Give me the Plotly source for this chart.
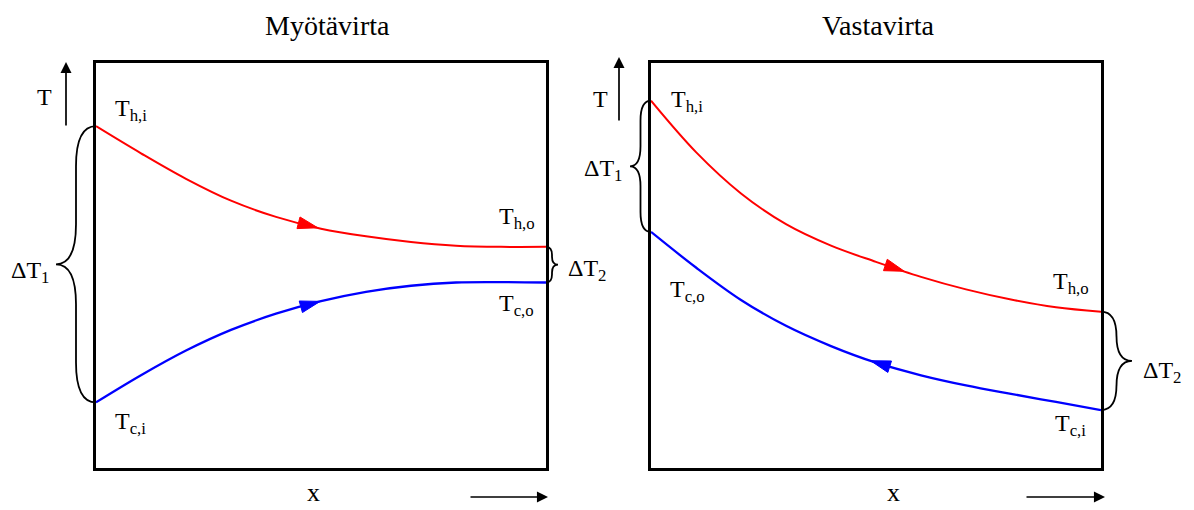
import numpy as np
import plotly.graph_objects as go

# ---- data: dimensionless position along the exchanger and temperature (0..100 scale)
x_pos = [0.0, 0.1, 0.2, 0.3, 0.4, 0.5, 0.6, 0.7, 0.8, 0.9, 1.0]

# parallel flow (Myötävirta)
par_hot = [84.4, 77.7, 71.4, 66.0, 62.0, 59.1, 57.2, 55.8, 54.9, 54.6, 54.6]
par_cold = [16.2, 22.9, 29.0, 34.1, 38.1, 41.2, 43.5, 45.0, 45.8, 45.9, 45.8]

# counter flow (Vastavirta)
cnt_hot = [90.7, 78.0, 67.8, 60.2, 54.9, 50.9, 47.2, 44.1, 41.6, 39.7, 38.6]
cnt_cold = [58.3, 49.5, 41.5, 35.1, 30.1, 26.0, 22.9, 20.4, 18.3, 16.3, 14.3]

titles = ["Myötävirta", "Vastavirta"]

# ---- page geometry (pixels)
W, H = 1194, 510
PANEL_PX = {"left": (96, 546), "right": (651, 1101)}
Y_TOP, Y_BOT = 63, 468
T_MAX = 100.0

HOT, COLD = "#ff0000", "#0000ff"
FONT = "Liberation Serif, Times New Roman, Times, serif"


def to_px(panel, x, t):
    x0, x1 = PANEL_PX[panel]
    return x0 + x * (x1 - x0), Y_BOT - t / T_MAX * (Y_BOT - Y_TOP)


def from_px(panel, px, py):
    x0, x1 = PANEL_PX[panel]
    return (px - x0) / (x1 - x0), (Y_BOT - py) / (Y_BOT - Y_TOP) * T_MAX


def paper(px, py):
    return px / W, 1 - py / H


def arrow_head(panel, xs, ts, x_tip, direction, length=20, half_w=6):
    """Filled triangle sitting on a curve, pointing along +x (1) or -x (-1)."""
    t_tip = np.interp(x_tip, xs, ts)
    x_back = x_tip - direction * 0.03
    t_back = np.interp(x_back, xs, ts)
    p = np.array(to_px(panel, x_tip, t_tip))
    q = np.array(to_px(panel, x_back, t_back))
    u = (p - q) / np.linalg.norm(p - q)
    n = np.array([-u[1], u[0]])
    base = p - length * u
    pts = [p, base + half_w * n, base - half_w * n, p]
    out = [from_px(panel, *pt) for pt in pts]
    return [o[0] for o in out], [o[1] for o in out]


def brace(px, ya, yb, depth, r, side):
    """Curly brace path (paper coords) between pixel rows ya and yb at column px."""
    h = side * depth / 2.0
    d = side * depth
    ym = (ya + yb) / 2.0
    pts = [
        ("M", [(px, ya)]),
        ("Q", [(px + h, ya), (px + h, ya + r)]),
        ("L", [(px + h, ym - r)]),
        ("Q", [(px + h, ym), (px + d, ym)]),
        ("Q", [(px + h, ym), (px + h, ym + r)]),
        ("L", [(px + h, yb - r)]),
        ("Q", [(px + h, yb), (px, yb)]),
    ]
    s = ""
    for cmd, coords in pts:
        s += cmd + " ".join("%.5f,%.5f" % paper(a, b) for a, b in coords) + " "
    return dict(type="path", path=s.strip(), xref="paper", yref="paper",
                line=dict(color="black", width=1.8))


fig = go.Figure()

panels = [
    ("left", "x", "y", par_hot, par_cold, [(0.493, 1, "hot"), (0.498, 1, "cold")]),
    ("right", "x2", "y2", cnt_hot, cnt_cold, [(0.563, 1, "hot"), (0.488, -1, "cold")]),
]

for panel, xa, ya, hot, cold, heads in panels:
    fig.add_trace(go.Scatter(x=x_pos, y=hot, mode="lines", line=dict(color=HOT, width=2, shape="spline"),
                             xaxis=xa, yaxis=ya, hoverinfo="skip"))
    fig.add_trace(go.Scatter(x=x_pos, y=cold, mode="lines", line=dict(color=COLD, width=2.3, shape="spline"),
                             xaxis=xa, yaxis=ya, hoverinfo="skip"))
    for x_tip, direc, which in heads:
        series = hot if which == "hot" else cold
        col = HOT if which == "hot" else COLD
        hx, hy = arrow_head(panel, x_pos, series, x_tip, direc)
        fig.add_trace(go.Scatter(x=hx, y=hy, mode="lines", fill="toself", fillcolor=col,
                                 line=dict(color=col, width=1), xaxis=xa, yaxis=ya, hoverinfo="skip"))

# braces for the end temperature differences
shapes = []
lx0, lx1 = PANEL_PX["left"]
rx0, rx1 = PANEL_PX["right"]
shapes.append(brace(lx0, to_px("left", 0, par_hot[0])[1], to_px("left", 0, par_cold[0])[1], 40, 40, -1))
shapes.append(brace(lx1, to_px("left", 1, par_hot[-1])[1], to_px("left", 1, par_cold[-1])[1], 12, 8, 1))
shapes.append(brace(rx0, to_px("right", 0, cnt_hot[0])[1], to_px("right", 0, cnt_cold[0])[1], 21, 20, -1))
shapes.append(brace(rx1, to_px("right", 1, cnt_hot[-1])[1], to_px("right", 1, cnt_cold[-1])[1], 31, 25, 1))

annotations = []


def label(text, px, py, size=24, xanchor="left", yanchor="middle"):
    x, y = paper(px, py)
    annotations.append(dict(text=text, x=x, y=y, xref="paper", yref="paper", showarrow=False,
                            xanchor=xanchor, yanchor=yanchor,
                            font=dict(family=FONT, size=size, color="black")))


def arrow(tip, tail):
    x, y = paper(*tip)
    annotations.append(dict(text="", x=x, y=y, xref="paper", yref="paper", showarrow=True,
                            ax=tail[0] - tip[0], ay=tail[1] - tip[1], axref="pixel", ayref="pixel",
                            arrowhead=2, arrowsize=1.3, arrowwidth=1.7, arrowcolor="black"))


# titles
label(titles[0], 327, 25, size=28, xanchor="center")
label(titles[1], 878, 25, size=28, xanchor="center")

# left panel labels
label("T", 35, 97)
label("T<sub>h,i</sub>", 113, 110)
label("T<sub>c,i</sub>", 113, 423)
label("ΔT<sub>1</sub>", 9, 272)
label("T<sub>h,o</sub>", 497, 218)
label("T<sub>c,o</sub>", 497, 305)
label("ΔT<sub>2</sub>", 566, 270)
label("x", 313, 509, size=26, xanchor="center", yanchor="bottom")
arrow((66, 62), (66, 127))
arrow((548, 497), (469, 497))

# right panel labels
label("T", 591, 99)
label("T<sub>h,i</sub>", 669, 101)
label("T<sub>c,o</sub>", 668, 291)
label("ΔT<sub>1</sub>", 582, 170)
label("T<sub>h,o</sub>", 1051, 283)
label("T<sub>c,i</sub>", 1053, 425)
label("ΔT<sub>2</sub>", 1141, 372)
label("x", 893, 509, size=26, xanchor="center", yanchor="bottom")
arrow((619, 57), (619, 122))
arrow((1105, 497), (1025, 497))

axis_common = dict(range=[0, 1], showgrid=False, zeroline=False, showticklabels=False, ticks="",
                   showline=True, mirror=True, linecolor="black", linewidth=2.6, fixedrange=True)
yaxis_common = dict(axis_common, range=[0, T_MAX])

ydom = [1 - Y_BOT / H, 1 - Y_TOP / H]
fig.update_layout(
    width=W, height=H, autosize=False,
    margin=dict(l=0, r=0, t=0, b=0),
    paper_bgcolor="white", plot_bgcolor="white",
    showlegend=False,
    font=dict(family=FONT, color="black"),
    xaxis=dict(axis_common, domain=[lx0 / W, lx1 / W], anchor="y"),
    yaxis=dict(yaxis_common, domain=ydom, anchor="x"),
    xaxis2=dict(axis_common, domain=[rx0 / W, rx1 / W], anchor="y2"),
    yaxis2=dict(yaxis_common, domain=ydom, anchor="x2"),
    shapes=shapes,
    annotations=annotations,
)

fig.write_html("out.html")
